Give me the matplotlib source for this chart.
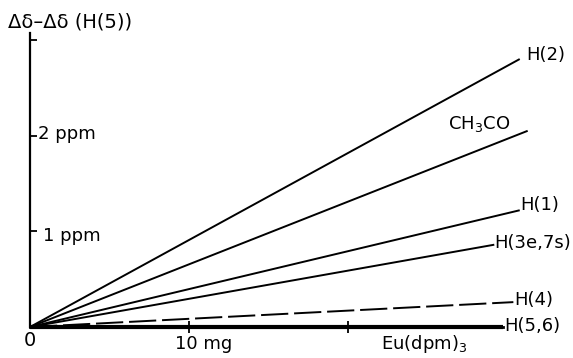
import matplotlib
matplotlib.use('Agg')
import matplotlib.pyplot as plt

plt.rcParams['font.family'] = ['DejaVu Sans']
plt.rcParams['mathtext.fontset'] = 'dejavusans'

# End points of the straight lines (all start at the origin)
names = ['H(2)', 'CH$_3$CO', 'H(1)', 'H(3e,7s)', 'H(4)', 'H(5,6)']
end_mg = [30.8, 31.3, 30.8, 29.2, 30.4, 29.75]      # Eu(dpm)3 added, mg
end_ppm = [2.80, 2.05, 1.22, 0.86, 0.26, 0.0]       # shift difference, ppm

y_ticks = [1, 2, 3]
y_tick_labels = ['1 ppm', '2 ppm', '']
x_ticks = [10, 20]

# label offsets (pixels) from line end
offsets = [(7, 4), (-80, 7), (1, 5), (0, 2), (1, 2), (1, 1)]

fig = plt.figure(figsize=(5.73, 3.58), dpi=100)
ax = fig.add_axes([0, 0, 1, 1])
ax.set_xlim(-30 / 15.9, 543 / 15.9)
ax.set_ylim(-31 / 95.7, 327 / 95.7)

for name, xm, yp, off in zip(names, end_mg, end_ppm, offsets):
    ls = '-'
    lw = 1.4
    if name == 'H(4)':
        ls = (0, (14, 3))
    if name == 'H(5,6)':
        lw = 3.0
    ax.plot([0, xm], [0, yp], color='black', lw=lw, ls=ls, solid_capstyle='butt')
    ax.annotate(name, (xm, yp), xytext=off, textcoords='offset pixels',
                ha='left', va='center', fontsize=13)

# axes
for s in ['top', 'right']:
    ax.spines[s].set_visible(False)
ax.spines['left'].set_position(('data', 0))
ax.spines['bottom'].set_position(('data', 0))
ax.spines['left'].set_bounds(0, 3.07)
ax.spines['bottom'].set_bounds(0, end_mg[-1])
ax.spines['left'].set_linewidth(1.6)
ax.spines['bottom'].set_linewidth(2.0)

ax.set_yticks(y_ticks)
ax.set_xticks(x_ticks)
ax.set_yticklabels([])
ax.set_xticklabels([])
ax.tick_params(axis='y', direction='in', length=5, width=1.3)
ax.tick_params(axis='x', direction='inout', length=9, width=1.3)

# tick labels written beside the axis, as in the drawing
ax.text(0.5, 2.02, y_tick_labels[1], ha='left', va='center', fontsize=13)
ax.text(0.8, 0.95, y_tick_labels[0], ha='left', va='center', fontsize=13)
ax.text(0, -0.14, '0', ha='center', va='center', fontsize=14)
ax.text(9.1, -0.18, '10 mg', ha='left', va='center', fontsize=13)
ax.text(22.1, -0.18, 'Eu(dpm)$_3$', ha='left', va='center', fontsize=13)

fig.text(8 / 573, 1 - 22 / 358, 'Δδ–Δδ (H(5))', ha='left', va='center', fontsize=14)

fig.savefig('out.png', dpi=100)
